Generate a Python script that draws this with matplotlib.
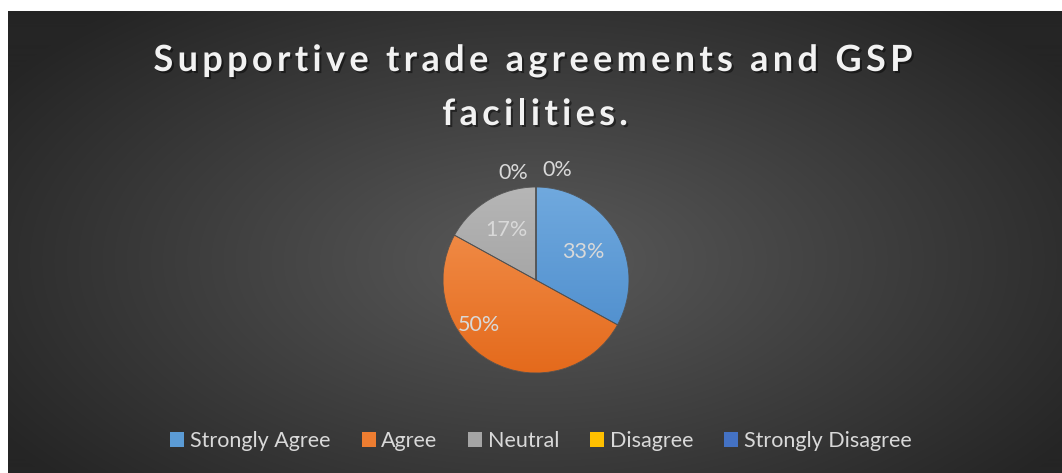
import numpy as np
import matplotlib
matplotlib.use("Agg")
import matplotlib.pyplot as plt
import matplotlib.patheffects as pe
from matplotlib.colors import LinearSegmentedColormap, to_rgb
from matplotlib.patches import Patch

W, H = 1062, 473
categories = ["Strongly Agree", "Agree", "Neutral", "Disagree", "Strongly Disagree"]
shares = [33, 50, 17, 0, 0]
pct_labels = ["33%", "50%", "17%", "0%", "0%"]
title_lines = ["Supportive trade agreements and GSP", "facilities."]

base = ["#5B9BD5", "#ED7D31", "#A5A5A5", "#FFC000", "#4472C4"]
# (bottom, top) shades for the slice gradients
shades = [("#4889CA", "#70A9DE"), ("#E46A1C", "#F49452"), ("#979797", "#B6B6B6"),
          ("#F2B600", "#FFD040"), ("#3A66B8", "#5A84D0")]
# label placement inside/around the pie: (distance, angle or None for mid-wedge)
lab_place = [(0.59, None), (0.78, -141.7), (0.62, None), (1.18, 102), (1.20, 79)]

FONT = "Lato"
TXT = "#D9D9D9"

fig = plt.figure(figsize=(W / 100, H / 100), dpi=100, facecolor="white")

# dark radial background
bg = fig.add_axes([8 / W, 0, 1 - 8 / W, 1 - 11 / H])
bg.set_axis_off()
yy, xx = np.mgrid[0:462, 0:1054]
d = np.sqrt(((xx - 529) / 640.0) ** 2 + ((yy - 250) / 330.0) ** 2)
d = np.clip(d, 0, 1)
c0 = np.array(to_rgb("#5a5a5a")); c1 = np.array(to_rgb("#252525"))
img = c0[None, None, :] * (1 - d[..., None]) + c1[None, None, :] * d[..., None]
bg.imshow(img, aspect="auto", extent=[0, 1, 0, 1])
bg.set_xlim(0, 1); bg.set_ylim(0, 1)

# pie
cx, cy, R = 536, 280, 93
ax = fig.add_axes([(cx - R) / W, (H - cy - R) / H, 2 * R / W, 2 * R / H])
wedges, _ = ax.pie(shares, colors=base, startangle=90, counterclock=False,
                   wedgeprops=dict(linewidth=0))
grad = np.linspace(0, 1, 256).reshape(-1, 1)
for w, (lo, hi) in zip(wedges, shades):
    cm = LinearSegmentedColormap.from_list("", [lo, hi])
    im = ax.imshow(grad, cmap=cm, extent=[-1, 1, -1, 1], origin="lower",
                   aspect="auto", zorder=2)
    im.set_clip_path(w)
ax.pie(shares, startangle=90, counterclock=False,
       wedgeprops=dict(fill=False, edgecolor="#505050", linewidth=0.6, zorder=3))
ax.set_xlim(-1, 1); ax.set_ylim(-1, 1)

for w, lab, (dist, ang) in zip(wedges, pct_labels, lab_place):
    if ang is None:
        ang = (w.theta1 + w.theta2) / 2
    a = np.deg2rad(ang)
    ax.text(dist * np.cos(a), dist * np.sin(a), lab, ha="center", va="center",
            color=TXT, fontsize=15.5, family=FONT, zorder=5, clip_on=False)

# title with tracking
r = fig.canvas.get_renderer()


def tw(s, size):
    t = fig.text(0, 0, s + "|", fontsize=size, fontweight="bold", family=FONT)
    v = t.get_window_extent(r).width
    t.remove()
    return v


def spaced(line, base_px, size, track, xc=535):
    bar = tw("", size)
    adv = [tw(line[:i], size) - bar for i in range(len(line) + 1)]
    total = adv[-1] + track * (len(line) - 1)
    x0 = xc - total / 2
    for i, ch in enumerate(line):
        if ch == " ":
            continue
        fig.text((x0 + adv[i] + track * i) / W, 1 - base_px / H, ch,
                 fontsize=size, fontweight="bold", family=FONT, color="#F2F2F2",
                 va="baseline", ha="left",
                 path_effects=[pe.withSimplePatchShadow(offset=(1.5, -1.5),
                                                        shadow_rgbFace="black",
                                                        alpha=0.45)])


spaced(title_lines[0], 71, 26, 4.3, 533)
spaced(title_lines[1], 125, 26, 4.3, 535)

handles = [Patch(facecolor=c, edgecolor="none") for c in base]
fig.legend(handles, categories, loc="center", bbox_to_anchor=(541 / W, 1 - 441 / H),
           ncol=5, frameon=False, handlelength=0.65, handleheight=0.65,
           handletextpad=0.25, columnspacing=1.45,
           prop=dict(family=FONT, size=15.5), labelcolor=TXT)

fig.savefig("out.png", dpi=100, facecolor=fig.get_facecolor())
